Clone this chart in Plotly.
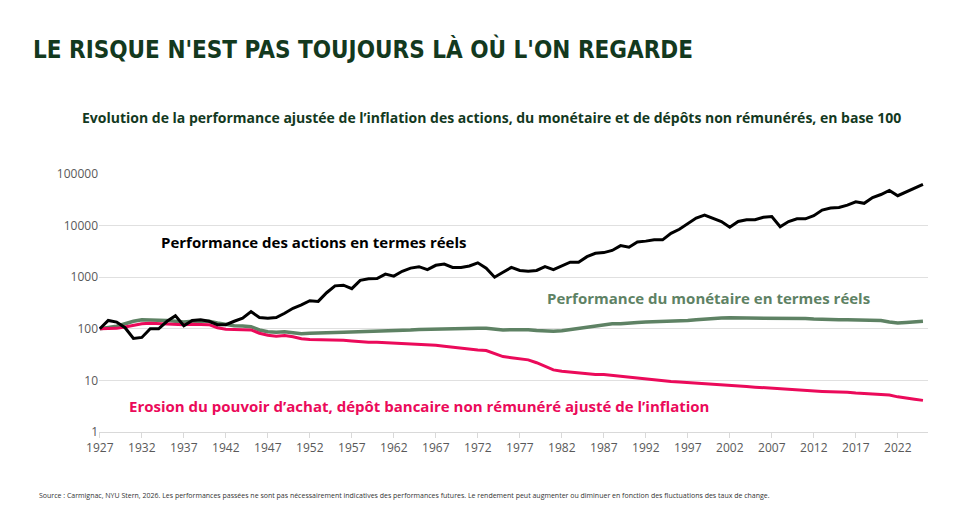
import plotly.graph_objects as go

years = list(range(1927, 2026))

# stocks, real terms (base 100)
actions = [
    100, 145, 135, 105, 65, 68, 100, 100, 140, 180,            # 1927-1936
    115, 145, 150, 140, 120, 120, 140, 160, 215, 165,          # 1937-1946
    160, 165, 200, 250, 290, 350, 340, 500, 680, 700,          # 1947-1956
    600, 870, 930, 940, 1150, 1050, 1300, 1500, 1600, 1400,    # 1957-1966
    1700, 1800, 1550, 1550, 1650, 1900, 1500, 1000, 1250, 1550,  # 1967-1976
    1350, 1300, 1350, 1600, 1400, 1650, 1950, 1950, 2500, 2900,  # 1977-1986
    3000, 3300, 4100, 3800, 4800, 5000, 5300, 5300, 7100, 8500,  # 1987-1996
    11000, 14000, 16000, 14000, 12000, 9300, 12000, 13000, 13000, 14500,  # 1997-2006
    15000, 9500, 12000, 13500, 13500, 15500, 20000, 22000, 22500, 25000,  # 2007-2016
    29000, 27000, 35000, 40000, 48000, 38000, 45000, 55000, 63000,       # 2017-2025
]

# money market, real terms
monetaire = [
    100, 105, 112, 125, 140, 150, 150, 150, 145, 140,
    135, 140, 140, 140, 130, 120, 115, 113, 110, 95,
    88, 86, 88, 84, 80, 82, 82, 83, 85, 86,
    87, 87, 88, 88, 90, 91, 93, 95, 97, 98,
    100, 100, 100, 101, 101, 103, 102, 98, 95, 96,
    97, 96, 93, 90, 90, 92, 97, 105, 110, 115,
    120, 125, 125, 130, 133, 135, 137, 138, 138, 140,
    145, 150, 155, 158, 162, 163, 163, 163, 160, 160,
    162, 163, 163, 160, 158, 155, 152, 150, 150, 150,
    150, 148, 146, 145, 135, 130, 133, 135, 140,
]

# unremunerated deposit, inflation adjusted
depot = [
    100, 100, 102, 108, 118, 125, 128, 125, 122, 120,
    120, 122, 122, 120, 105, 98, 97, 97, 95, 82,
    75, 72, 74, 70, 64, 62, 62, 62, 62, 60,
    58, 56, 55, 55, 54, 53, 53, 52, 51, 50,
    48, 46, 44, 42, 40, 39, 38, 33, 29, 27.5,
    26.5, 25, 22, 19, 16, 15, 14.5, 14, 13.5, 13,
    13, 12.5, 12, 11.5, 11, 10.5, 10, 9.8, 9.5, 9.3,
    9.1, 8.9, 8.7, 8.4, 8.2, 8, 7.8, 7.6, 7.4, 7.2,
    7, 6.8, 6.6, 6.5, 6.3, 6.2, 6.1, 6, 6, 5.9,
    5.7, 5.6, 5.5, 5.4, 5.2, 4.8, 4.5, 4.3, 4.1,
]

fig = go.Figure()
fig.add_trace(go.Scatter(x=years, y=monetaire, mode="lines", line=dict(color="#5e8264", width=3.5)))
fig.add_trace(go.Scatter(x=years, y=depot, mode="lines", line=dict(color="#eb0a5a", width=3)))
fig.add_trace(go.Scatter(x=years, y=actions, mode="lines", line=dict(color="#000000", width=3)))

fig.update_layout(
    width=958, height=506, showlegend=False,
    paper_bgcolor="white", plot_bgcolor="white",
    margin=dict(l=91, r=38, t=166, b=82),
    font=dict(family="Open Sans", color="#595959"),
    xaxis=dict(range=[1926.9, 2025.6], tickvals=list(range(1927, 2026, 5)),
               showgrid=False, ticks="outside", ticklen=5, tickcolor="#d9d9d9",
               showline=True, linecolor="#d9d9d9", tickfont=dict(size=12), automargin=False),
    yaxis=dict(type="log", range=[0, 5], tickvals=[1, 10, 100, 1000, 10000, 100000],
               ticktext=["1", "10", "100", "1000", "10000", "100000"],
               gridcolor="#e0e0e0", showline=False, zeroline=False, tickfont=dict(size=12),
               automargin=False),
)

fig.add_annotation(text="<b>LE RISQUE N'EST PAS TOUJOURS LÀ OÙ L'ON REGARDE</b>", xref="paper", yref="paper",
                   x=-0.082, y=1.55, xanchor="left", showarrow=False,
                   font=dict(family="DejaVu Sans Condensed", size=24, color="#13391e"))
fig.add_annotation(text="<b>Evolution de la performance ajustée de l’inflation des actions, du monétaire et de dépôts non rémunérés, en base 100</b>",
                   xref="paper", yref="paper", x=0.473, y=1.264, showarrow=False,
                   font=dict(size=14, color="#13391e"))
fig.add_annotation(text="<b>Performance des actions en termes réels</b>", x=1952.5, y=3.68,
                   showarrow=False, font=dict(size=15, color="#000000"))
fig.add_annotation(text="<b>Performance du monétaire en termes réels</b>", x=1999.5, y=2.6,
                   showarrow=False, font=dict(size=15, color="#5e8264"))
fig.add_annotation(text="<b>Erosion du pouvoir d’achat, dépôt bancaire non rémunéré ajusté de l’inflation</b>",
                   x=1965, y=0.5, showarrow=False, font=dict(size=15, color="#eb0a5a"))
fig.add_annotation(text="Source : Carmignac, NYU Stern, 2026. Les performances passées ne sont pas nécessairement indicatives des performances futures. Le rendement peut augmenter ou diminuer en fonction des fluctuations des taux de change.",
                   xref="paper", yref="paper", x=-0.075, y=-0.27, xanchor="left", showarrow=False,
                   font=dict(size=7, color="#333333"))

fig.write_html("out.html")
